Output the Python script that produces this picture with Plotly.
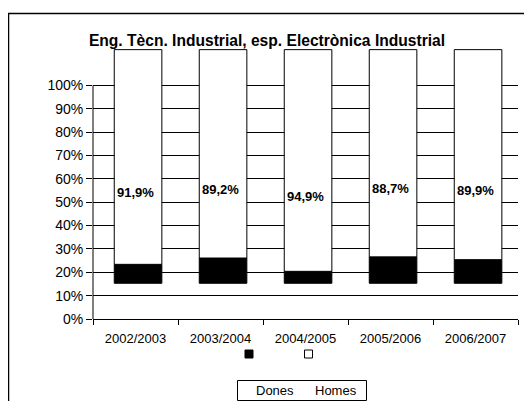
import plotly.graph_objects as go

categories = ["2002/2003", "2003/2004", "2004/2005", "2005/2006", "2006/2007"]
homes = [91.9, 89.2, 94.9, 88.7, 89.9]
dones = [8.1, 10.8, 5.1, 11.3, 10.1]
y_ticks = [0, 10, 20, 30, 40, 50, 60, 70, 80, 90, 100]
title_text = "Eng. Tècn. Industrial, esp. Electrònica Industrial"
series_names = ["Dones", "Homes"]

BAR_BASE = 15.3  # bars appear shifted upward in the source chart

W, H = 532, 401
PAGE = 8  # page body margin in the browser
ML, MR, MT, MB = 85, 22, 40, 90
PW, PH = W - ML - MR, H - MT - MB
FONT = "Liberation Sans, Arial, sans-serif"


def px_x(px):
    return (px - PAGE - ML) / PW


def px_y(py):
    return (H - MB - (py - PAGE)) / PH


fig = go.Figure()
fig.add_trace(go.Bar(
    x=categories, y=dones, base=[BAR_BASE] * len(dones), name=series_names[0],
    marker=dict(color="black", line=dict(color="black", width=1)),
    width=0.56, offset=-0.25,
))
fig.add_trace(go.Bar(
    x=categories, y=homes, base=[BAR_BASE + d for d in dones], name=series_names[1],
    marker=dict(color="white", line=dict(color="black", width=1)),
    width=0.56, offset=-0.25,
))

# value labels for Homes (centred on the un-shifted segment, as in the source)
for c, d, h in zip(categories, dones, homes):
    fig.add_annotation(
        x=c, y=d + h / 2, text=f"{h:.1f}%".replace(".", ","), showarrow=False,
        font=dict(family=FONT, size=13, color="black", weight="bold"),
        xanchor="center", yanchor="middle",
    )

shapes = []
# y-axis line from 0% to 100%
shapes.append(dict(type="line", xref="paper", yref="y", x0=0, x1=0, y0=0, y1=100,
                   line=dict(color="black", width=1)))
# outer chart border
shapes.append(dict(type="rect", xref="paper", yref="paper",
                   x0=px_x(8.6), x1=px_x(560), y0=px_y(13.5), y1=px_y(430),
                   line=dict(color="black", width=1.3), fillcolor="rgba(0,0,0,0)", layer="below"))
# legend box
shapes.append(dict(type="rect", xref="paper", yref="paper",
                   x0=px_x(237.5), x1=px_x(366.5), y0=px_y(380.5), y1=px_y(400.5),
                   line=dict(color="black", width=1), fillcolor="white"))
# legend swatches
for cx, fill in [(249, "black"), (308.5, "white")]:
    shapes.append(dict(type="rect", xref="paper", yref="paper",
                       x0=px_x(cx - 4), x1=px_x(cx + 4), y0=px_y(350), y1=px_y(358),
                       line=dict(color="black", width=1), fillcolor=fill))

for name, cx in zip(series_names, [274.5, 335.8]):
    fig.add_annotation(x=px_x(cx), y=px_y(390.5), xref="paper", yref="paper",
                       text=name, showarrow=False, xanchor="center", yanchor="middle",
                       font=dict(family=FONT, size=13, color="black"))

fig.update_layout(
    width=W, height=H,
    margin=dict(l=ML, r=MR, t=MT, b=MB, pad=0),
    paper_bgcolor="white", plot_bgcolor="white",
    barmode="overlay", showlegend=False,
    shapes=shapes,
    title=dict(text=title_text, x=(267 - PAGE) / W, xref="container", xanchor="center",
               y=1 - (41 - PAGE) / H, yref="container", yanchor="middle",
               font=dict(family=FONT, size=15.6, color="black", weight="bold")),
    font=dict(family=FONT, size=13, color="black"),
)
fig.update_xaxes(
    type="category", range=[-0.5, 4.5], showgrid=False,
    showline=True, linecolor="black", linewidth=1,
    ticks="outside", tickson="boundaries", ticklen=5, tickcolor="black",
    ticklabelstandoff=7,
    tickfont=dict(family=FONT, size=13, color="black"), zeroline=False,
)
fig.update_yaxes(
    range=[0, 116], tickvals=y_ticks, ticktext=[f"{v}%" for v in y_ticks],
    showgrid=True, gridcolor="black", gridwidth=1,
    showline=False, zeroline=False,
    ticks="outside", ticklen=6, tickcolor="black",
    tickfont=dict(family=FONT, size=14, color="black"),
)

fig.write_html("out.html")
